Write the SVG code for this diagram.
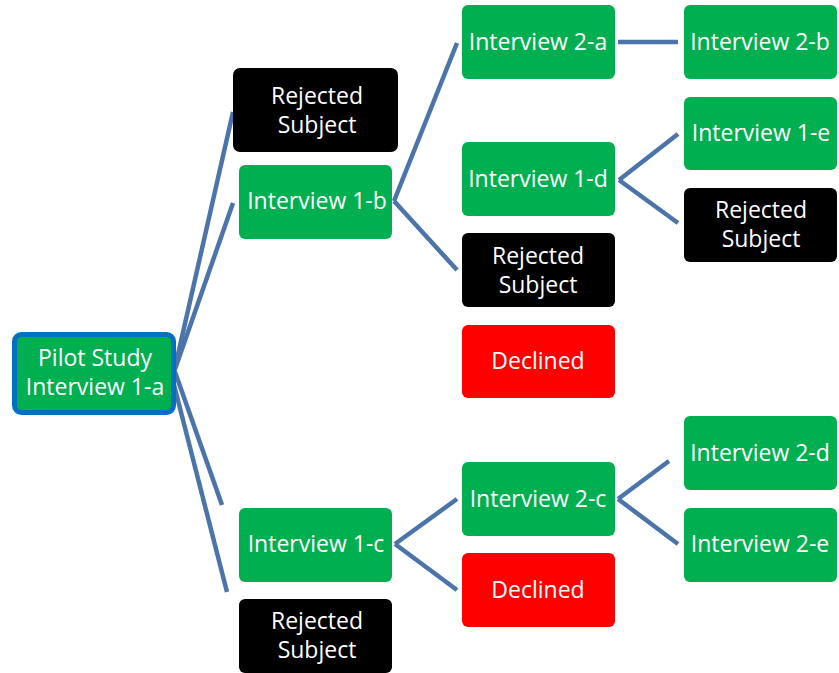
<svg xmlns="http://www.w3.org/2000/svg" width="839" height="673" viewBox="0 0 839 673">
<style>
.g{fill:#00B050}
.k{fill:#000000}
.r{fill:#FF0000}
text{font-family:"Open Sans","Noto Sans","Liberation Sans",sans-serif;font-size:23px;fill:#FFFFFF;text-anchor:middle}
.c line{stroke:#4A74AA;stroke-width:4.5;stroke-linecap:butt;fill:none}
</style>
<rect width="839" height="673" fill="#FFFFFF"/>
<g class="c" id="connectors">
<line x1="174" y1="372" x2="233" y2="112"/>
<line x1="174" y1="372" x2="233" y2="203"/>
<line x1="175" y1="372" x2="222" y2="505"/>
<line x1="172" y1="377" x2="227" y2="592"/>
<line x1="394" y1="201" x2="457" y2="43"/>
<line x1="394" y1="201" x2="457" y2="270"/>
<line x1="618" y1="42" x2="678" y2="42"/>
<line x1="619" y1="180" x2="678" y2="134"/>
<line x1="619" y1="180" x2="678" y2="223"/>
<line x1="395" y1="544" x2="457" y2="499"/>
<line x1="395" y1="544" x2="457" y2="590"/>
<line x1="618" y1="499" x2="669" y2="461"/>
<line x1="618" y1="499" x2="678" y2="544"/>
</g>
<g id="root">
<rect x="14.5" y="334.5" width="159" height="78" rx="7" class="g" stroke="#0070C0" stroke-width="5"/>
<text x="95" y="366">Pilot Study</text>
<text x="95" y="395">Interview 1-a</text>
</g>
<g id="rej1">
<rect x="233" y="68" width="165" height="84" rx="7" class="k"/>
<text x="317" y="104">Rejected</text>
<text x="317" y="133">Subject</text>
</g>
<g id="int1b">
<rect x="239" y="165" width="153" height="74" rx="6" class="g"/>
<text x="317" y="209">Interview 1-b</text>
</g>
<g id="int2a">
<rect x="462" y="5" width="153" height="74" rx="6" class="g"/>
<text x="538" y="50">Interview 2-a</text>
</g>
<g id="int2b">
<rect x="684" y="5" width="153" height="74" rx="6" class="g"/>
<text x="760" y="50">Interview 2-b</text>
</g>
<g id="int1d">
<rect x="462" y="142" width="153" height="74" rx="6" class="g"/>
<text x="538" y="187">Interview 1-d</text>
</g>
<g id="int1e">
<rect x="684" y="97" width="153" height="73" rx="6" class="g"/>
<text x="761" y="141">Interview 1-e</text>
</g>
<g id="rej3">
<rect x="684" y="188" width="153" height="74" rx="6" class="k"/>
<text x="761" y="218">Rejected</text>
<text x="761" y="247">Subject</text>
</g>
<g id="rej2">
<rect x="462" y="233" width="153" height="74" rx="6" class="k"/>
<text x="538" y="264">Rejected</text>
<text x="538" y="293">Subject</text>
</g>
<g id="dec1">
<rect x="462" y="325" width="153" height="73" rx="6" class="r"/>
<text x="538" y="369">Declined</text>
</g>
<g id="int2d">
<rect x="684" y="416" width="153" height="74" rx="6" class="g"/>
<text x="760" y="461">Interview 2-d</text>
</g>
<g id="int2c">
<rect x="462" y="462" width="153" height="74" rx="6" class="g"/>
<text x="538" y="507">Interview 2-c</text>
</g>
<g id="int2e">
<rect x="684" y="508" width="153" height="74" rx="6" class="g"/>
<text x="760" y="552">Interview 2-e</text>
</g>
<g id="int1c">
<rect x="239" y="508" width="153" height="74" rx="6" class="g"/>
<text x="316" y="552">Interview 1-c</text>
</g>
<g id="dec2">
<rect x="462" y="553" width="153" height="74" rx="6" class="r"/>
<text x="538" y="598">Declined</text>
</g>
<g id="rej4">
<rect x="239" y="599" width="153" height="74" rx="6" class="k"/>
<text x="317" y="629">Rejected</text>
<text x="317" y="658">Subject</text>
</g>
</svg>
